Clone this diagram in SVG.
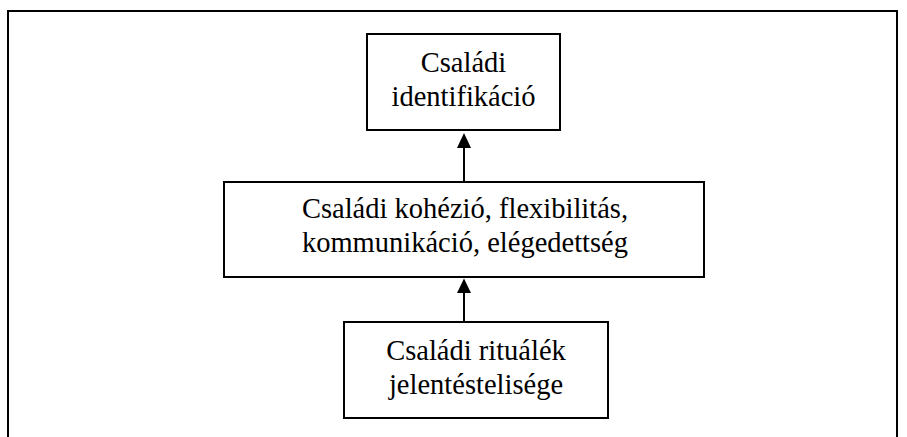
<svg xmlns="http://www.w3.org/2000/svg" width="907" height="437" viewBox="0 0 907 437">
<style>
.box{fill:#fff;stroke:#000;stroke-width:2}
.t{font-family:"Liberation Serif","Times New Roman",serif;font-size:28.5px;fill:#000;text-anchor:middle}
.c{stroke:#000;stroke-width:2;fill:none}
</style>
<defs>
<marker id="ah" viewBox="0 0 14 15" refX="7" refY="0" markerWidth="14" markerHeight="15" markerUnits="userSpaceOnUse" orient="auto-start-reverse">
<path d="M0,15 L7,0 L14,15 Z" fill="#000"/>
</marker>
</defs>
<rect width="907" height="437" fill="#fff"/>
<path d="M8,437 V11 H897 V437" fill="none" stroke="#000" stroke-width="2"/>
<g id="connectors">
<line class="c" x1="464" y1="182" x2="464" y2="147"/>
<path d="M457,148 L464,133 L471,148 Z" fill="#000"/>
<line class="c" x1="464" y1="322" x2="464" y2="292"/>
<path d="M457,293 L464,278.5 L471,293 Z" fill="#000"/>
</g>
<g id="node-identifikacio">
<rect class="box" x="367" y="34" width="193" height="96"/>
<text class="t" x="463.5" y="72">Családi</text>
<text class="t" x="463.5" y="106">identifikáció</text>
</g>
<g id="node-kohezio">
<rect class="box" x="224" y="182" width="480" height="95"/>
<text class="t" x="465" y="218">Családi kohézió, flexibilitás,</text>
<text class="t" x="465" y="252">kommunikáció, elégedettség</text>
</g>
<g id="node-ritualek">
<rect class="box" x="344" y="322" width="264" height="96"/>
<text class="t" x="476" y="360">Családi rituálék</text>
<text class="t" x="476" y="394">jelentéstelisége</text>
</g>
</svg>
